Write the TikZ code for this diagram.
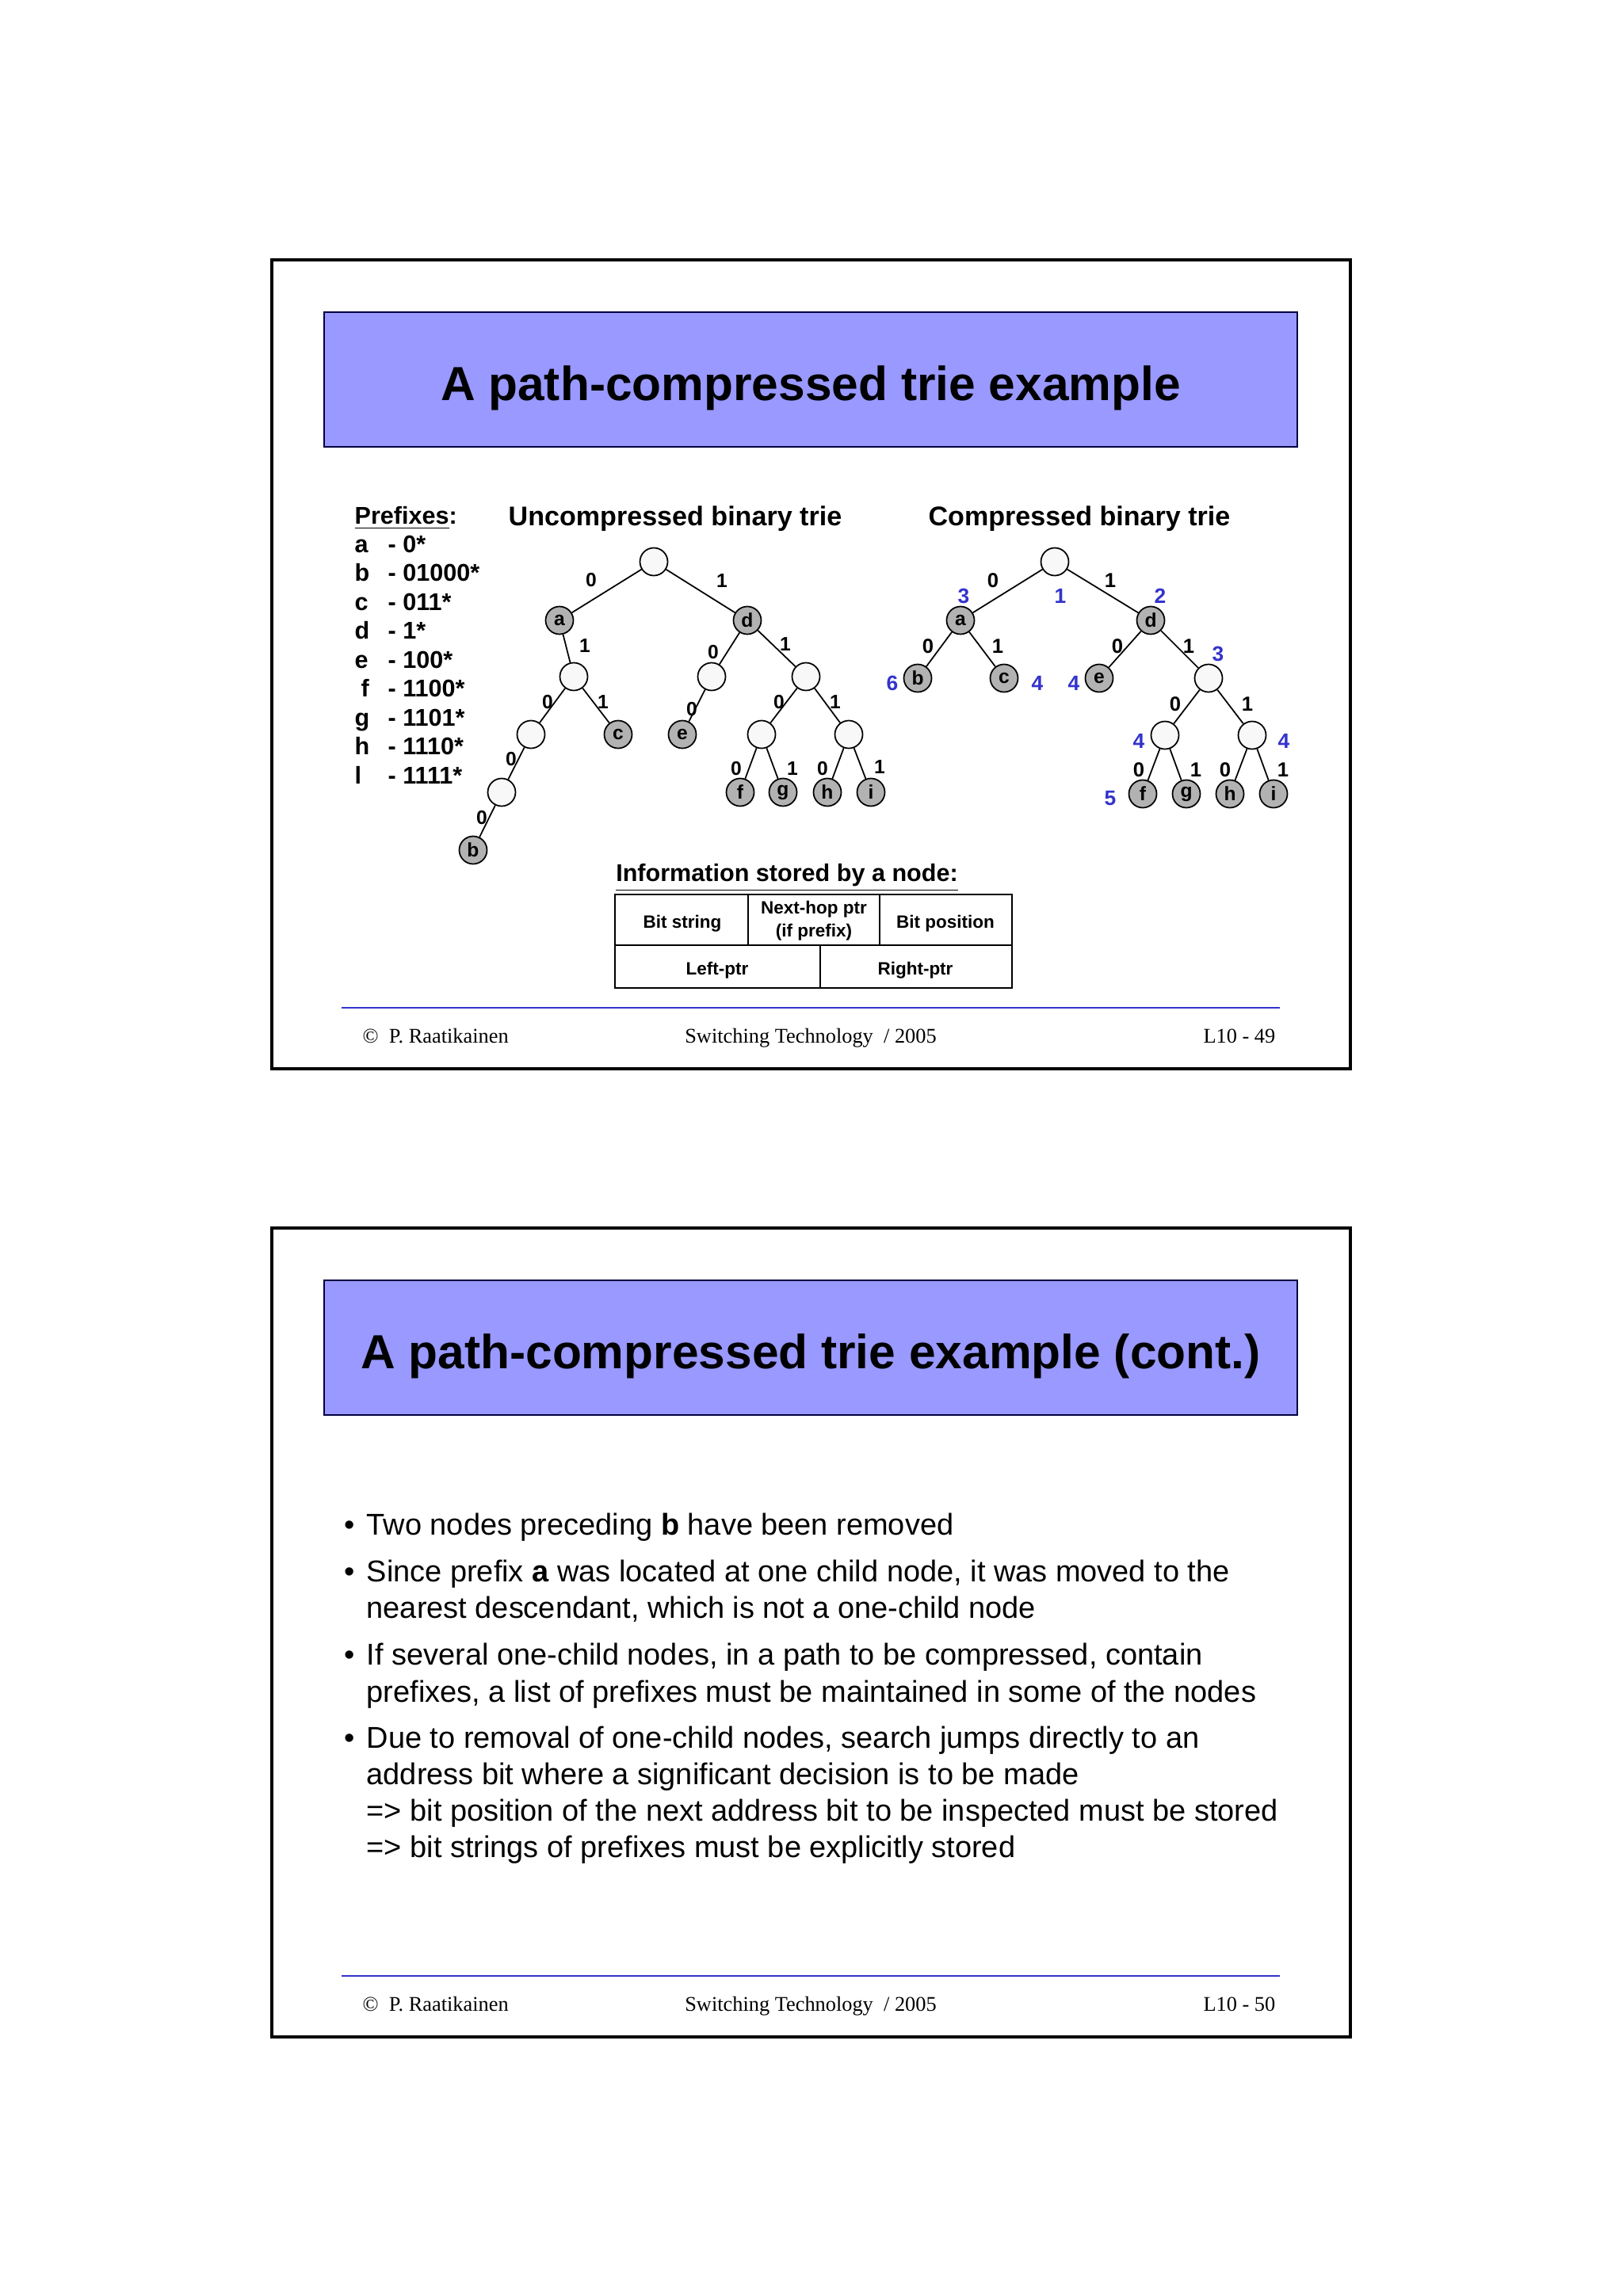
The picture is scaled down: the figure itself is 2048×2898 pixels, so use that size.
\documentclass[tikz,border=0pt]{standalone}
\usepackage{fontspec}
\setmainfont{Liberation Sans}
\newfontfamily\footfont{Liberation Serif}
\usetikzlibrary{positioning}
\definecolor{titleblue}{HTML}{9999FF}
\definecolor{posblue}{HTML}{3333CC}
\definecolor{nodegray}{HTML}{B2B2B2}
\definecolor{nodewhite}{HTML}{F8F8F8}
\tikzset{
  slideframe/.style={draw, line width=1.2pt},
  titlebox/.style={draw=black!75!blue, line width=0.4pt, fill=titleblue,
    minimum width=122.8mm, minimum height=17mm},
  titletext/.style={anchor=base, font=\fontsize{17.2}{20}\selectfont\bfseries},
  headtext/.style={anchor=base, font=\fontsize{9.7}{11}\selectfont\bfseries},
  preftext/.style={anchor=base west, inner sep=0pt, font=\fontsize{8.7}{10}\selectfont\bfseries},
  trienode/.style={circle, draw, line width=0.5pt, fill=nodewhite, minimum size=3.5mm,
    inner sep=0pt, font=\fontsize{7}{8}\selectfont\bfseries},
  prefnode/.style={trienode, fill=nodegray},
  edge/.style={line width=0.5pt},
  bitlbl/.style={inner sep=0pt, font=\fontsize{7}{8}\selectfont\bfseries},
  cbitlbl/.style={inner sep=0pt, font=\fontsize{7.3}{8}\selectfont\bfseries},
  bitpos/.style={inner sep=0pt, text=posblue, font=\fontsize{7.5}{8}\selectfont\bfseries},
  tbl/.style={line width=0.6pt},
  tbltext/.style={font=\fontsize{6.4}{8.2}\selectfont\bfseries, align=center},
  footline/.style={draw=posblue, line width=0.5pt},
  foottext/.style={inner sep=0pt, font=\fontsize{7.5}{9}\selectfont\footfont},
  bodytext/.style={anchor=base west, inner sep=0pt, font=\fontsize{10.8}{13.1}\selectfont}
}
\begin{document}
\begin{tikzpicture}[x=0.1mm, y=-0.1mm]
  \useasboundingbox (0,0) rectangle (2048,2898);
  \fill[white] (0,0) rectangle (2048,2898);

  % the two slides: frame, title bar and footer
  \foreach \oy/\pg/\ttl in {0/49/{A path-compressed trie example},
      1222/50/{A path-compressed trie example (cont.)}} {
    \draw[slideframe] (343,{328+\oy}) rectangle (1704,{1349+\oy});
    \node[titlebox] (bar\pg) at (1023,{479+\oy}) {};
    \node[titletext] (title\pg) at (1023,{505+\oy}) {\ttl};
    \draw[footline] (431,{1272+\oy}) -- (1615,{1272+\oy});
    \node[foottext, anchor=base west] (author\pg) at (457,{1316+\oy}) {©\enspace P. Raatikainen};
    \node[foottext, anchor=base] (course\pg) at (1023,{1316+\oy}) {Switching Technology\ \ / 2005};
    \node[foottext, anchor=base east] (page\pg) at (1610,{1316+\oy}) {L10 - \pg};
  }

  % prefixes
  \node[preftext] (prefhead) at (447,661) {\underline{Prefixes}:};
  \foreach \l/\lx/\s [count=\k from 0] in {a/447/0*, b/447/01000*, c/447/011*, d/447/1*,
      e/447/100*, f/455/1100*, g/447/1101*, h/447/1110*, l/447/1111*} {
    \node[preftext] (pl\k) at (\lx,{697+36.5*\k}) {\l};
    \node[preftext] (ps\k) at (489,{697+36.5*\k}) {- \s};
  }

  % uncompressed binary trie
  \node[headtext] (uhead) at (852,663) {Uncompressed binary trie};
  \foreach \n/\x/\y in {ur/825/709, ua1/724/854, ud0/898/854, ud1/1017/854,
      ua10/670/927, ud10/961/927, ud11/1071/927, ua100/633/1000}
    \node[trienode] (\n) at (\x,\y) {};
  \foreach \n/\x/\y/\t in {ua/706/783/a, ud/943/783/d, uc/780/927/c, ue/861/927/e,
      uf/934/1000/f, ug/988/1000/g, uh/1044/1000/h, ui/1099/1000/i, ub/597/1073/b}
    \node[prefnode] (\n) at (\x,\y) {\t};
  \foreach \p/\q/\b/\lx/\ly in {ur/ua/0/746/732, ur/ud/1/911/733, ua/ua1/1/738/815,
      ud/ud0/0/900/823, ud/ud1/1/991/813, ua1/ua10/0/691/886, ua1/uc/1/761/886,
      ud0/ue/0/873/895, ud1/ud10/0/983/886, ud1/ud11/1/1054/886,
      ua10/ua100/0/645/958, ua100/ub/0/608/1032, ud10/uf/0/929/970,
      ud10/ug/1/1000/970, ud11/uh/0/1038/970, ud11/ui/1/1110/968} {
    \draw[edge] (\p) -- (\q);
    \node[bitlbl] (lbl-\q) at (\lx,\ly) {\b};
  }

  % compressed binary trie
  \node[headtext] (chead) at (1362,663) {Compressed binary trie};
  \foreach \n/\x/\y in {cr/1331/709, cn3/1525/856, cn4l/1470/928, cn4r/1580/928}
    \node[trienode] (\n) at (\x,\y) {};
  \foreach \n/\x/\y/\t in {ca/1212/783/a, cd/1452/783/d, cb/1158/856/b, cc/1267/856/c,
      ce/1387/856/e, cf/1442/1002/f, cg/1497/1002/g, ch/1552/1002/h, ci/1607/1002/i}
    \node[prefnode] (\n) at (\x,\y) {\t};
  \foreach \p/\q/\b/\lx/\ly in {cr/ca/0/1253/733, cr/cd/1/1401/733, ca/cb/0/1171/816,
      ca/cc/1/1259/816, cd/ce/0/1410/816, cd/cn3/1/1500/816, cn3/cn4l/0/1483/889,
      cn3/cn4r/1/1574/889, cn4l/cf/0/1437/972, cn4l/cg/1/1509/972,
      cn4r/ch/0/1546/972, cn4r/ci/1/1619/972} {
    \draw[edge] (\p) -- (\q);
    \node[cbitlbl] (lbl-\q) at (\lx,\ly) {\b};
  }
  % bit positions
  \foreach \x/\y/\v [count=\k] in {1216/752/3, 1338/752/1, 1464/752/2, 1126/862/6,
      1309/862/4, 1355/862/4, 1537/825/3, 1437/935/4, 1620/935/4, 1401/1008/5}
    \node[bitpos] (pos\k) at (\x,\y) {\v};

  % information stored by a node
  \node[preftext, anchor=base] (infohead) at (993,1112) {\underline{Information stored by a node:}};
  \draw[tbl] (776,1129) rectangle (1277,1247);
  \draw[tbl] (776,1193) -- (1277,1193);
  \draw[tbl] (944,1129) -- (944,1193);
  \draw[tbl] (1110,1129) -- (1110,1193);
  \draw[tbl] (1035,1193) -- (1035,1247);
  \node[tbltext, anchor=base] (bitstr) at (861,1171) {Bit string};
  \node[tbltext] (nexthop) at (1027,1162) {Next-hop ptr\\(if prefix)};
  \node[tbltext, anchor=base] (bitpos) at (1193,1171) {Bit position};
  \node[tbltext, anchor=base] (leftptr) at (905,1230) {Left-ptr};
  \node[tbltext, anchor=base] (rightptr) at (1155,1230) {Right-ptr};

  % second slide text
  \foreach \y in {1937, 1996, 2101, 2206}
    \node[bodytext, anchor=base] (dot\y) at (441,\y) {•};
  \foreach \y/\t [count=\k] in {1937/{Two nodes preceding \textbf{b} have been removed},
      1996/{Since prefix \textbf{a} was located at one child node, it was moved to the},
      2042/{nearest descendant, which is not a one-child node},
      2101/{If several one-child nodes, in a path to be compressed, contain},
      2148/{prefixes, a list of prefixes must be maintained in some of the nodes},
      2206/{Due to removal of one-child nodes, search jumps directly to an},
      2252/{address bit where a significant decision is to be made},
      2298/{=> bit position of the next address bit to be inspected must be stored},
      2344/{=> bit strings of prefixes must be explicitly stored}}
    \node[bodytext] (line\k) at (462,\y) {\t};
\end{tikzpicture}
\end{document}
